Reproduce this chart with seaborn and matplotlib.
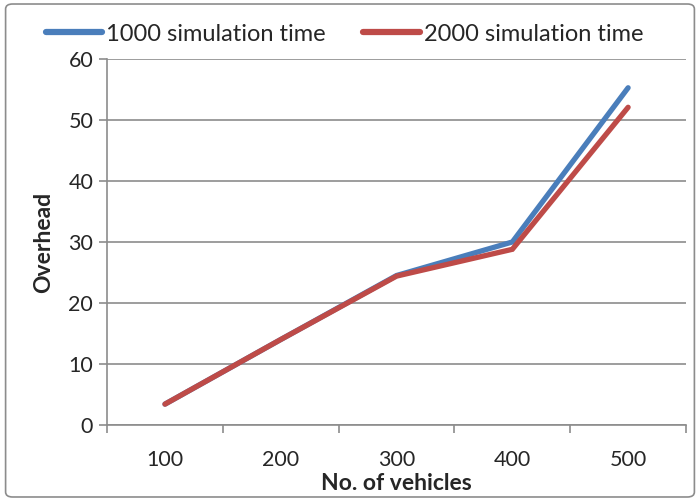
import matplotlib
matplotlib.use("Agg")
import matplotlib.pyplot as plt
import seaborn as sns
import pandas as pd
from matplotlib.patches import FancyBboxPatch

categories = ["100", "200", "300", "400", "500"]
series_1000 = [3.4, 14.0, 24.5, 30.0, 55.3]
series_2000 = [3.4, 14.0, 24.4, 28.8, 52.1]
series_names = ["1000 simulation time", "2000 simulation time"]
y_ticks = [0, 10, 20, 30, 40, 50, 60]

sns.set_theme(style="white")
plt.rcParams["font.family"] = ["Lato", "DejaVu Sans"]

df = pd.DataFrame({
    "pos": list(range(len(categories))) * 2,
    "value": series_1000 + series_2000,
    "series": [series_names[0]] * len(categories) + [series_names[1]] * len(categories),
})

fig = plt.figure(figsize=(7.0, 5.01), dpi=100)
ax = fig.add_axes([0.153, 0.152, 0.827, 0.730])

palette = {series_names[0]: "#4A7EBB", series_names[1]: "#BE4B48"}
sns.lineplot(data=df, x="pos", y="value", hue="series", palette=palette,
             linewidth=3.8, ax=ax, legend=True)
for ln in ax.lines:
    ln.set_solid_capstyle("round")
    ln.set_solid_joinstyle("miter")

ax.set_xlim(-0.5, len(categories) - 0.5)
ax.set_ylim(0, 60)
ax.set_yticks(y_ticks)
ax.set_yticklabels([str(v) for v in y_ticks], fontsize=15.5)
ax.yaxis.grid(True, color="#8c8c8c", linewidth=1.2)
ax.set_axisbelow(True)

# major ticks at category boundaries, labels at category centers
ax.set_xticks([i - 0.5 for i in range(len(categories) + 1)])
ax.set_xticklabels([""] * (len(categories) + 1))
ax.set_xticks(list(range(len(categories))), minor=True)
ax.set_xticklabels(categories, minor=True, fontsize=15.5)
ax.tick_params(axis="x", which="major", direction="out", length=6, width=1.2, color="#8c8c8c", bottom=True)
ax.tick_params(axis="x", which="minor", length=0, pad=18)
ax.tick_params(axis="y", direction="out", length=6, width=1.2, color="#8c8c8c", left=True, pad=4)

for s in ["top", "right"]:
    ax.spines[s].set_visible(False)
for s in ["left", "bottom"]:
    ax.spines[s].set_color("#8c8c8c")
    ax.spines[s].set_linewidth(1.2)

ax.set_xlabel("No. of vehicles", fontsize=16.5, fontweight="bold", labelpad=2)
ax.set_ylabel("Overhead", fontsize=16.5, fontweight="bold", labelpad=10)

leg = ax.legend(loc="center", bbox_to_anchor=(0.41, 1.068), ncol=2, frameon=False,
                fontsize=17, handlelength=2.4, columnspacing=1.6, handletextpad=0.15,
                borderaxespad=0.0)
for h in leg.get_lines():
    h.set_linewidth(4.5)
    h.set_solid_capstyle("round")

border = FancyBboxPatch((0.008, 0.008), 0.984, 0.984, boxstyle="round,pad=0,rounding_size=0.01",
                        transform=fig.transFigure, fill=False, edgecolor="#8c8c8c", linewidth=1.2)
fig.patches.append(border)

fig.savefig("out.png", dpi=100, facecolor="white")
